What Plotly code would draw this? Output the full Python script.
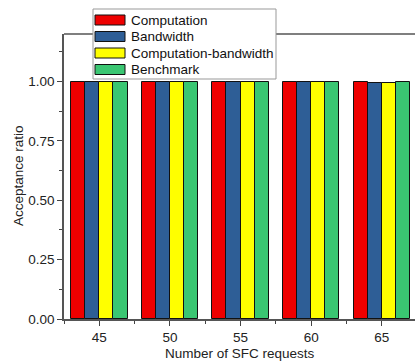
import plotly.graph_objects as go

categories = [45, 50, 55, 60, 65]
series_names = ["Computation", "Bandwidth", "Computation-bandwidth", "Benchmark"]
computation = [1.0, 1.0, 1.0, 1.0, 1.0]
bandwidth = [1.0, 1.0, 1.0, 1.0, 0.995]
comp_bandwidth = [1.0, 1.0, 1.0, 1.0, 0.993]
benchmark = [1.0, 1.0, 1.0, 1.0, 1.0]
y_ticks = [0.0, 0.25, 0.5, 0.75, 1.0]
y_tick_labels = ["0.00", "0.25", "0.50", "0.75", "1.00"]

colors = ["#EE0000", "#2E5E96", "#FFFF00", "#3AC672"]
values = [computation, bandwidth, comp_bandwidth, benchmark]
offsets = [-1.5, -0.5, 0.5, 1.5]

W, H = 415, 362
ML, MR, MT, MB = 64, 0, 34, 43
PW, PH = W - ML - MR, H - MT - MB

def px(x):
    return (x - ML) / PW

def py(y):
    return (H - MB - y) / PH

fig = go.Figure()
for name, vals, col, off in zip(series_names, values, colors, offsets):
    fig.add_trace(go.Bar(
        x=[c + off for c in categories], y=vals, name=name, width=1.0,
        marker=dict(color=col, line=dict(color="#111111", width=1)),
        showlegend=False,
    ))

FAM = "Arial, Liberation Sans, sans-serif"
font = dict(family=FAM, size=13.5, color="#222222")

fig.update_layout(
    width=W, height=H,
    margin=dict(l=ML, r=MR, t=MT, b=MB, autoexpand=False),
    paper_bgcolor="white", plot_bgcolor="white",
    font=font, barmode="overlay", bargap=0,
    xaxis=dict(
        range=[42.5, 67.35], tickmode="array", tickvals=categories,
        ticks="outside", ticklen=5, tickcolor="#444444", tickwidth=1,
        showline=True, linecolor="#555555", linewidth=1.5,
        showgrid=False, zeroline=False, automargin=False,
        minor=dict(tickmode="array", tickvals=[42.5, 47.5, 52.5, 57.5, 62.5],
                   ticks="outside", ticklen=3, tickcolor="#444444"),
    ),
    yaxis=dict(
        range=[0, 1.2], tickmode="array", tickvals=y_ticks, ticktext=y_tick_labels,
        ticks="outside", ticklen=5, tickcolor="#444444", tickwidth=1,
        showline=True, linecolor="#555555", linewidth=1.5,
        showgrid=False, zeroline=False, automargin=False,
        minor=dict(tickmode="array", tickvals=[0.125, 0.375, 0.625, 0.875, 1.125],
                   ticks="outside", ticklen=3, tickcolor="#444444"),
    ),
)

shapes = [
    dict(type="line", xref="paper", yref="paper", x0=0, x1=1, y0=1, y1=1,
         line=dict(color="#555555", width=1.5)),
    dict(type="rect", xref="paper", yref="paper", x0=px(93), x1=px(276),
         y0=py(79), y1=py(9), fillcolor="white", line=dict(color="#999999", width=1)),
]
annotations = [
    dict(xref="paper", yref="paper", x=px(240), y=py(353), text="Number of SFC requests",
         showarrow=False, xanchor="center", yanchor="middle", font=font),
    dict(xref="paper", yref="paper", x=px(18), y=py(176), text="Acceptance ratio",
         showarrow=False, xanchor="center", yanchor="middle", textangle=-90, font=font),
]
row_centers = [20, 36.5, 53, 69.5]
for name, col, yc in zip(series_names, colors, row_centers):
    shapes.append(dict(type="rect", xref="paper", yref="paper",
                       x0=px(95), x1=px(125), y0=py(yc + 5), y1=py(yc - 5),
                       fillcolor=col, line=dict(color="#111111", width=1)))
    annotations.append(dict(xref="paper", yref="paper", x=px(129), y=py(yc),
                            text=name, showarrow=False, xanchor="left", yanchor="middle",
                            font=dict(family=FAM, size=13.5, color="#111111")))
fig.update_layout(shapes=shapes, annotations=annotations)

fig.write_html("out.html")
